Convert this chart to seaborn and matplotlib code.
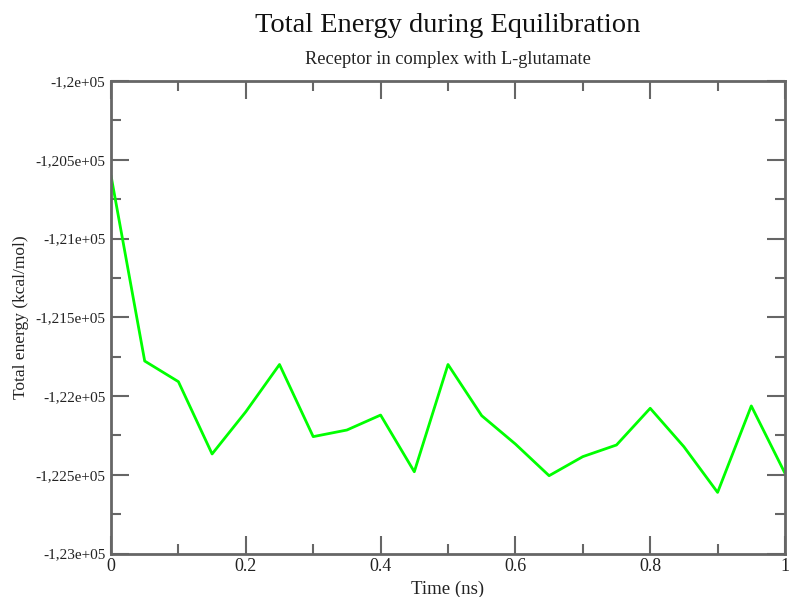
import matplotlib
matplotlib.use("Agg")
import matplotlib.pyplot as plt
import matplotlib.ticker as mticker
import seaborn as sns
import pandas as pd

time_ns = [0.0, 0.05, 0.1, 0.15, 0.2, 0.25, 0.3, 0.35, 0.4, 0.45, 0.5,
           0.55, 0.6, 0.65, 0.7, 0.75, 0.8, 0.85, 0.9, 0.95, 1.0]
energy = [-120600, -121778, -121909, -122368, -122100, -121800, -122258,
          -122216, -122121, -122481, -121800, -122125, -122305, -122506,
          -122385, -122311, -122078, -122322, -122612, -122063, -122491]
ytick_vals = [-123000, -122500, -122000, -121500, -121000, -120500, -120000]
ytick_labels = ["-1,23e+05", "-1,225e+05", "-1,22e+05", "-1,215e+05",
                "-1,21e+05", "-1,205e+05", "-1,2e+05"]
xtick_vals = [0, 0.2, 0.4, 0.6, 0.8, 1.0]
xtick_labels = ["0", "0.2", "0.4", "0.6", "0.8", "1"]

sns.set_theme(style="white")
plt.rcParams['font.family'] = ['Liberation Serif', 'DejaVu Serif']

df = pd.DataFrame({"t": time_ns, "e": energy})

fig = plt.figure(figsize=(7.9, 5.97), dpi=100)
ax = fig.add_axes([111/790, 1-553.5/597, (785-111)/790, (553.5-81)/597])
sns.lineplot(data=df, x="t", y="e", ax=ax, color="#00ff00", linewidth=2)

ax.set_xlim(0, 1)
ax.set_ylim(-123000, -120000)
ax.set_xticks(xtick_vals)
ax.set_xticklabels(xtick_labels)
ax.set_yticks(ytick_vals)
ax.set_yticklabels(ytick_labels)
ax.xaxis.set_minor_locator(mticker.MultipleLocator(0.1))
ax.yaxis.set_minor_locator(mticker.MultipleLocator(250))

spine_col = "#666666"
for s in ax.spines.values():
    s.set_visible(True)
    s.set_color(spine_col)
    s.set_linewidth(2)

ax.tick_params(which="major", direction="in", length=13, width=1.5,
               color=spine_col, top=True, right=True, bottom=True, left=True,
               labelsize=11, labelcolor="#222222", pad=4)
ax.tick_params(which="minor", direction="in", length=7, width=1.5,
               color=spine_col, top=True, right=True, bottom=True, left=True)
ax.tick_params(axis="x", which="major", labelsize=13, pad=3)

ax.set_xlabel("Time (ns)", fontsize=13.5, color="#222222", labelpad=4)
ax.set_ylabel("Total energy (kcal/mol)", fontsize=12.5, color="#222222")
ax.yaxis.set_label_coords((29 - 111) / 674, 0.5)

fig.text(448/790, 1-25/597, "Total Energy during Equilibration",
         ha="center", va="center", fontsize=20.5, color="#111111")
fig.text(448/790, 1-59/597, "Receptor in complex with L-glutamate",
         ha="center", va="center", fontsize=13.2, color="#222222")

fig.savefig("out.png", dpi=100, facecolor="white")
